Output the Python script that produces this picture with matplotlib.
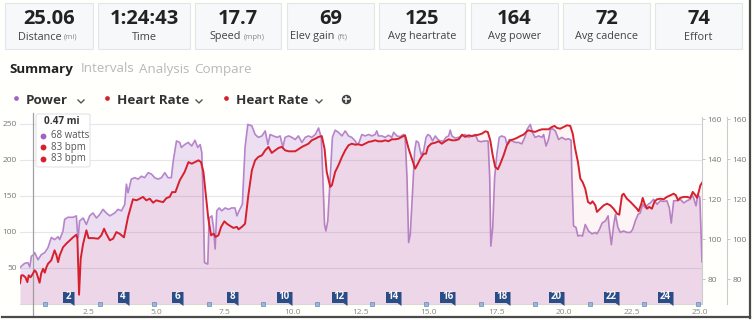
import numpy as np
import matplotlib
matplotlib.use("Agg")
import matplotlib.pyplot as plt
from matplotlib.patches import Rectangle, FancyBboxPatch
from matplotlib.lines import Line2D
from matplotlib.transforms import blended_transform_factory

plt.rcParams['font.family'] = ['Open Sans', 'DejaVu Sans']

W, H = 754, 320

# ---- data -------------------------------------------------------------
stat_values = ["25.06", "1:24:43", "17.7", "69", "125", "164", "72", "74"]
stat_labels = ["Distance", "Time", "Speed", "Elev gain", "Avg heartrate",
               "Avg power", "Avg cadence", "Effort"]
stat_units = ["(mi)", "", "(mph)", "(ft)", "", "", "", ""]

tabs = ["Summary", "Intervals", "Analysis", "Compare"]
series_names = ["Power", "Heart Rate", "Heart Rate"]

power_mi = [0.00, 0.05, 0.17, 0.29, 0.36, 0.42, 0.50, 0.54, 0.66, 0.78, 0.91, 1.03, 1.15, 1.27,
            1.40, 1.46, 1.58, 1.64, 1.76, 1.95, 2.07, 2.11, 2.14, 2.19, 2.32, 2.44, 2.56, 2.68,
            2.81, 2.93, 3.05, 3.17, 3.30, 3.48, 3.60, 3.73, 3.85, 3.91, 3.97, 4.09, 4.22, 4.34,
            4.46, 4.58, 4.71, 4.83, 4.95, 5.07, 5.20, 5.32, 5.44, 5.56, 5.63, 5.75, 5.87, 5.93,
            6.05, 6.18, 6.31, 6.43, 6.53, 6.62, 6.68, 6.72, 6.78, 6.90, 6.95, 7.05, 7.11, 7.17,
            7.23, 7.32, 7.41, 7.54, 7.66, 7.78, 7.90, 7.97, 8.05, 8.17, 8.27, 8.37, 8.52, 8.64,
            8.76, 8.89, 9.01, 9.11, 9.19, 9.31, 9.44, 9.56, 9.66, 9.74, 9.87, 9.99, 10.11, 10.23,
            10.36, 10.48, 10.60, 10.72, 10.85, 10.97, 11.07, 11.12, 11.19, 11.24, 11.31, 11.40,
            11.48, 11.58, 11.70, 11.83, 11.95, 12.07, 12.19, 12.32, 12.38, 12.46, 12.56, 12.68,
            12.81, 12.93, 13.05, 13.11, 13.17, 13.30, 13.42, 13.54, 13.66, 13.73, 13.85, 13.97,
            14.09, 14.15, 14.22, 14.28, 14.34, 14.42, 14.50, 14.56, 14.64, 14.74, 14.83, 14.92,
            14.99, 15.07, 15.16, 15.26, 15.36, 15.44, 15.56, 15.65, 15.75, 15.81, 15.87, 15.99,
            16.12, 16.24, 16.36, 16.48, 16.61, 16.73, 16.83, 16.95, 17.07, 17.20, 17.26, 17.30,
            17.37, 17.44, 17.52, 17.61, 17.70, 17.83, 17.89, 17.98, 18.08, 18.20, 18.32, 18.44,
            18.57, 18.63, 18.75, 18.84, 18.93, 19.06, 19.18, 19.24, 19.33, 19.42, 19.49, 19.57,
            19.67, 19.79, 19.91, 20.04, 20.16, 20.25, 20.28, 20.34, 20.43, 20.50, 20.59, 20.67,
            20.77, 20.89, 21.02, 21.14, 21.20, 21.29, 21.39, 21.51, 21.61, 21.65, 21.73, 21.81,
            21.88, 21.97, 22.06, 22.18, 22.30, 22.43, 22.51, 22.61, 22.71, 22.79, 22.88, 22.98,
            23.08, 23.16, 23.28, 23.41, 23.53, 23.65, 23.77, 23.86, 23.93, 24.02, 24.14, 24.26,
            24.39, 24.51, 24.63, 24.69, 24.75, 24.84, 24.91, 24.98, 25.02, 25.06]
power_w = [50, 52, 56, 57, 51, 66, 68, 71, 61, 68, 71, 78, 92, 89,
           93, 89, 101, 117, 120, 120, 122, 100, 92, 115, 119, 110, 122, 126,
           119, 124, 131, 126, 122, 126, 131, 129, 138, 166, 154, 173, 175, 173,
           177, 175, 182, 180, 175, 173, 175, 182, 175, 175, 198, 226, 224, 217,
           221, 224, 219, 227, 217, 221, 210, 160, 57, 55, 119, 122, 106, 76,
           129, 133, 129, 133, 131, 133, 133, 122, 129, 138, 217, 249, 247, 235,
           231, 233, 240, 221, 235, 233, 231, 233, 217, 231, 233, 231, 228, 233,
           224, 231, 233, 231, 235, 244, 231, 184, 110, 101, 115, 175,
           231, 241, 238, 233, 240, 233, 231, 226, 221, 224, 235, 233,
           235, 233, 235, 240, 233, 233, 231, 234, 231, 238, 233, 232,
           235, 233, 175, 85, 96, 152, 212, 226, 224, 207, 212, 231,
           235, 233, 226, 233, 228, 226, 226, 231, 233, 241, 233, 230,
           231, 233, 235, 231, 233, 235, 226, 225, 226, 226, 175, 80,
           106, 175, 207, 231, 233, 231, 221, 228, 226, 224, 224, 222,
           233, 242, 249, 237, 231, 233, 231, 235, 219, 228, 242, 243,
           240, 228, 231, 228, 229, 227, 175, 108, 106, 94, 95, 94,
           110, 101, 97, 99, 97, 103, 112, 115, 122, 106, 82, 108,
           124, 106, 99, 101, 99, 99, 103, 115, 124, 126, 138, 133,
           138, 140, 145, 138, 143, 142, 143, 133, 112, 143, 143, 145,
           140, 143, 145, 152, 147, 136, 152, 147, 105, 58]

hr_mi = [0.00, 0.05, 0.11, 0.20, 0.27, 0.32, 0.39, 0.48, 0.54, 0.60, 0.66, 0.72, 0.78, 0.85,
         0.91, 0.97, 1.03, 1.15, 1.27, 1.34, 1.40, 1.46, 1.58, 1.70, 1.83, 1.95, 2.07, 2.11,
         2.17, 2.23, 2.32, 2.44, 2.52, 2.68, 2.87, 2.99, 3.09, 3.17, 3.30, 3.42, 3.54, 3.66,
         3.82, 3.97, 4.15, 4.28, 4.40, 4.52, 4.64, 4.77, 4.89, 5.01, 5.13, 5.26, 5.38, 5.50,
         5.59, 5.71, 5.87, 6.05, 6.19, 6.31, 6.43, 6.56, 6.65, 6.74, 6.83, 6.92, 7.02, 7.11,
         7.19, 7.29, 7.39, 7.51, 7.60, 7.72, 7.84, 7.97, 8.03, 8.15, 8.27, 8.39, 8.52, 8.64,
         8.76, 8.89, 9.01, 9.13, 9.25, 9.38, 9.50, 9.62, 9.74, 9.87, 10.11, 10.23, 10.36, 10.48,
         10.60, 10.72, 10.85, 10.97, 11.09, 11.19, 11.27, 11.40, 11.46, 11.58, 11.70, 11.83,
         11.95, 12.07, 12.19, 12.32, 12.44, 12.56, 12.68, 12.81, 12.93, 13.05, 13.17, 13.30,
         13.42, 13.54, 13.66, 13.79, 13.91, 14.03, 14.15, 14.28, 14.40, 14.52, 14.62, 14.71,
         14.83, 14.92, 14.99, 15.11, 15.26, 15.38, 15.50, 15.62, 15.75, 15.87, 15.99, 16.12,
         16.24, 16.36, 16.48, 16.61, 16.73, 16.85, 16.97, 17.10, 17.19, 17.28, 17.37, 17.46,
         17.56, 17.65, 17.77, 17.89, 18.01, 18.14, 18.26, 18.38, 18.50, 18.63, 18.69, 18.81,
         18.93, 19.06, 19.18, 19.30, 19.42, 19.55, 19.64, 19.73, 19.85, 19.98, 20.10, 20.22,
         20.31, 20.40, 20.50, 20.59, 20.67, 20.77, 20.87, 20.96, 21.04, 21.14, 21.20, 21.32,
         21.45, 21.57, 21.69, 21.81, 21.94, 22.02, 22.12, 22.18, 22.30, 22.43, 22.55, 22.67,
         22.73, 22.83, 22.88, 22.95, 23.04, 23.12, 23.22, 23.32, 23.41, 23.53, 23.65, 23.77,
         23.90, 24.02, 24.10, 24.18, 24.26, 24.39, 24.51, 24.63, 24.72, 24.82, 24.88, 24.94,
         25.00, 25.06]
hr_bpm = [78, 82, 82, 81, 78.6, 82, 81, 83, 84.5, 83.5, 81, 78.3, 83, 85.3,
          83.3, 86, 87.8, 89.5, 94.5, 92, 88.6, 92, 96, 97.8, 99.5, 101, 102.3, 100.3,
          72.3, 90.3, 97.8, 104.5, 100.6, 100.6, 100.3, 102, 105.3, 102.8, 99.5, 100.3, 103.6, 102.8,
          101, 111.2, 120, 119.5, 120.3, 121.2, 119.5, 120.3, 118.3, 119.5, 119, 118.6, 120.6, 121.2,
          123.6, 123.6, 129.5, 133.7, 138.6, 137.8, 138.6, 139.5, 138.6, 133.7, 122, 110.3, 102, 102.8,
          101.2, 102, 106.2, 109, 107.8, 106.7, 105.7, 106.2, 105, 106.2, 107.8, 122, 134.5, 139.5,
          141.2, 142, 144.5, 146.2, 143.2, 144.5, 145.7, 146.2, 144.5, 144, 144, 145, 146.2, 147,
          147.8, 149.5, 150.3, 151.2, 151.6, 145.3, 133.7, 126.2, 127, 133.7, 137, 141.2,
          144.5, 147, 147.8, 147.3, 147.5, 147, 147.8, 148.7, 149, 149.5, 149, 149,
          149.5, 149, 150, 150, 150.3, 151.2, 152, 145.3, 140.3, 135.3, 137.8, 140.3,
          142.8, 142.8, 146.2, 147.8, 148.3, 149, 147.8, 149, 150, 149.5, 149.5, 150,
          152.3, 151.2, 152, 151.6, 152, 152.3, 152.8, 154, 153.6, 149.5, 142, 136.2,
          135, 137.8, 142, 147, 149.5, 150, 150.7, 151.6, 152.3, 154, 154.5, 154,
          153.7, 154.5, 155, 155, 155, 156.2, 156.7, 155.7, 155.3, 156.2, 157, 156.7,
          152.8, 145.3, 138.7, 130.3, 128.7, 125.3, 118.7, 117.8, 119, 117, 113.7, 115.3,
          117, 117.8, 117, 115.3, 112.8, 112.3, 122, 122.8, 120.3, 118.7, 117, 115.3,
          114, 117.8, 120.7, 117.8, 115.3, 116.2, 115.3, 119, 120, 120.3, 120, 121.2,
          122, 122.8, 122, 119.5, 120.7, 121.2, 121.2, 120.7, 123.7, 122, 120.7, 123.7,
          127, 128.2]

lap_miles = list(range(1, 26))
power_ticks = [50, 100, 150, 200, 250]
hr_ticks = [80, 100, 120, 140, 160]
dist_ticks = [2.5, 5.0, 7.5, 10.0, 12.5, 15.0, 17.5, 20.0, 22.5, 25.0]

hover_mi = 0.47
hover_rows = ["68 watts", "83 bpm", "83 bpm"]

PURPLE = '#a65fc2'
PURPLE_LINE = '#b585cb'
RED = '#d7202e'


def fx(px):
    return px / W


def fy(py):
    return 1 - py / H


def fig_dot(fig, x, y, color, size, zorder=3):
    fig.lines.append(Line2D([fx(x)], [fy(y)], transform=fig.transFigure, marker='o',
                            markersize=size, color=color, mec='none', zorder=zorder))


fig = plt.figure(figsize=(W / 100, H / 100), dpi=100, facecolor='#fffffc')

# ---- stat boxes ---------------------------------------------------------
box_edges = [(5, 93), (98, 190), (195, 281), (287, 374), (379, 465), (471, 558),
             (563, 650), (655, 742)]
unit_split = {0: (62, 64), 2: (241, 244), 3: (334, 338)}
for i, (x0, x1) in enumerate(box_edges):
    fig.patches.append(Rectangle((fx(x0), fy(49.3)), fx(x1 - x0), (49.3 - 3.3) / H,
                                 transform=fig.transFigure, facecolor='#f6f8fa',
                                 edgecolor='#e2e6ea', lw=0.8))
    cx = (x0 + x1) / 2
    fig.text(fx(cx), fy(19.5), stat_values[i], ha='center', va='center',
             fontsize=14.5, fontweight='bold', color='#222222')
    if stat_units[i]:
        a, b = unit_split[i]
        fig.text(fx(a), fy(37), stat_labels[i], ha='right', va='center',
                 fontsize=7.8, color='#444444')
        fig.text(fx(b), fy(37.5), stat_units[i], ha='left', va='center',
                 fontsize=5.5, color='#888888')
    else:
        fig.text(fx(cx), fy(37), stat_labels[i], ha='center', va='center',
                 fontsize=7.8, color='#444444')

# ---- tabs ---------------------------------------------------------------
tab_x = [9, 81, 139, 194]
for i, t in enumerate(tabs):
    fig.text(fx(tab_x[i]), fy(69), t, ha='left', va='center', fontsize=9.6,
             fontweight='bold' if i == 0 else 'normal',
             color='#222222' if i == 0 else '#b9b9b9')

# ---- series selector row ------------------------------------------------
dot_x = [16, 107, 226]
name_x = [26, 117, 236]
chev_x = [81, 199, 319]
dot_c = [PURPLE, RED, RED]
for i, name in enumerate(series_names):
    fig_dot(fig, dot_x[i], 98, dot_c[i], 3.4)
    fig.text(fx(name_x[i]), fy(100.5), name, ha='left', va='center', fontsize=9.6,
             fontweight='bold', color='#333333')
    c = chev_x[i]
    fig.lines.append(Line2D([fx(c - 3), fx(c), fx(c + 3)], [fy(100), fy(103), fy(100)],
                            transform=fig.transFigure, color='#555555', lw=1))
fig_dot(fig, 346, 99, '#444444', 6.8)
fig.lines.append(Line2D([fx(343.5), fx(348.5)], [fy(99), fy(99)],
                        transform=fig.transFigure, color='white', lw=1.1, zorder=4))
fig.lines.append(Line2D([fx(346), fx(346)], [fy(96.5), fy(101.5)],
                        transform=fig.transFigure, color='white', lw=1.1, zorder=4))

# ---- main chart ---------------------------------------------------------
ax = fig.add_axes([fx(20), fy(303.7), fx(702 - 20), (303.7 - 117) / H])
ax.set_facecolor('white')
ax.set_xlim(0, 25.06)
ax.set_ylim(0, 259.3)
ax.fill_between(power_mi, 0, power_w, color=PURPLE, alpha=0.2, lw=0)
ax.plot(power_mi, power_w, color=PURPLE_LINE, lw=1.2)
ax.set_yticks(power_ticks)
ax.set_xticks(dist_ticks)
ax.set_xticklabels([f"{t:.1f}" for t in dist_ticks])
ax.grid(axis='y', color='#e6e6e6', lw=0.8)
ax.set_axisbelow(True)
ax.tick_params(axis='y', length=0, labelsize=6, labelcolor='#777777', pad=2.5)
ax.tick_params(axis='x', length=0, labelsize=6, labelcolor='#888888', pad=4)
for s in ['left', 'top', 'right']:
    ax.spines[s].set_visible(False)
ax.spines['bottom'].set_color('#dddddd')

for k, off in enumerate([0, 18]):
    axr = ax.twinx()
    axr.set_ylim(67.8, 161.15)
    axr.set_yticks(hr_ticks)
    axr.tick_params(axis='y', direction='out', length=2.5, width=0.6, color='#bbbbbb',
                    labelsize=6, labelcolor='#777777', pad=1.5)
    for s in ['left', 'top', 'bottom']:
        axr.spines[s].set_visible(False)
    axr.spines['right'].set_color('#cccccc')
    axr.spines['right'].set_linewidth(0.8)
    if off:
        axr.spines['right'].set_position(('outward', off))
    if k == 0:
        ax2 = axr

ax2.fill_between(hr_mi, 60, hr_bpm, color='#e8303c', alpha=0.05, lw=0)
ax2.plot(hr_mi, hr_bpm, color=RED, lw=1.4)

# lap markers
btrans = blended_transform_factory(ax.transData, ax.transAxes)
for m in lap_miles:
    if m % 2 == 0:
        w = 11.5 if m < 10 else 15.5
        verts = [(0, -1.5), (0, 12.5), (-w, 12.5), (-w, 1.5), (-4, 1.5), (0, -1.5)]
        rmax = max(abs(v) for p in verts for v in p)
        ax.plot([m], [0], transform=btrans, marker=verts, markersize=2 * rmax * 0.72,
                color='#1f4f8a', mec='none', clip_on=False, zorder=6)
        ax.annotate(str(m), xy=(m, 0), xycoords=btrans, xytext=(-w / 2 * 0.72, 7 * 0.72),
                    textcoords='offset points', ha='center', va='center', color='white',
                    fontsize=7, fontweight='bold', zorder=7, annotation_clip=False)
    else:
        ax.plot([m - 0.07], [0], transform=btrans, marker='s', markersize=3,
                color='#9dbbe0', mec='#5f8cc4', mew=0.5, clip_on=False, zorder=6)

# hover line + tooltip
ax.plot([hover_mi, hover_mi], [-0.07, 1.02], transform=btrans, color='#a0a0a0',
        lw=0.9, clip_on=False, zorder=5)
fig.patches.append(FancyBboxPatch((fx(36), fy(167)), fx(54), 53 / H,
                                  boxstyle='round,pad=0,rounding_size=0.004',
                                  transform=fig.transFigure, facecolor='white',
                                  edgecolor='#e4e4e4', lw=0.8, zorder=10))
fig.text(fx(62), fy(121), f"{hover_mi} mi", ha='center', va='center', fontsize=7.2,
         fontweight='bold', color='#333333', zorder=11)
row_c = [PURPLE, RED, RED]
for i, r in enumerate(hover_rows):
    yy = 136 + i * 11.3
    fig_dot(fig, 43, yy, row_c[i], 4.2, zorder=11)
    fig.text(fx(51), fy(yy), r, ha='left', va='center', fontsize=7,
             color='#555555', zorder=11)

# screenshot frame shadow
fig.lines.append(Line2D([fx(750), fx(750)], [fy(1), fy(317.5)], transform=fig.transFigure,
                        color='#4a4a4a', lw=1.6))
fig.lines.append(Line2D([fx(2), fx(750)], [fy(317), fy(317)], transform=fig.transFigure,
                        color='#4a4a4a', lw=1.6))

fig.savefig('out.png', dpi=100, facecolor=fig.get_facecolor())
